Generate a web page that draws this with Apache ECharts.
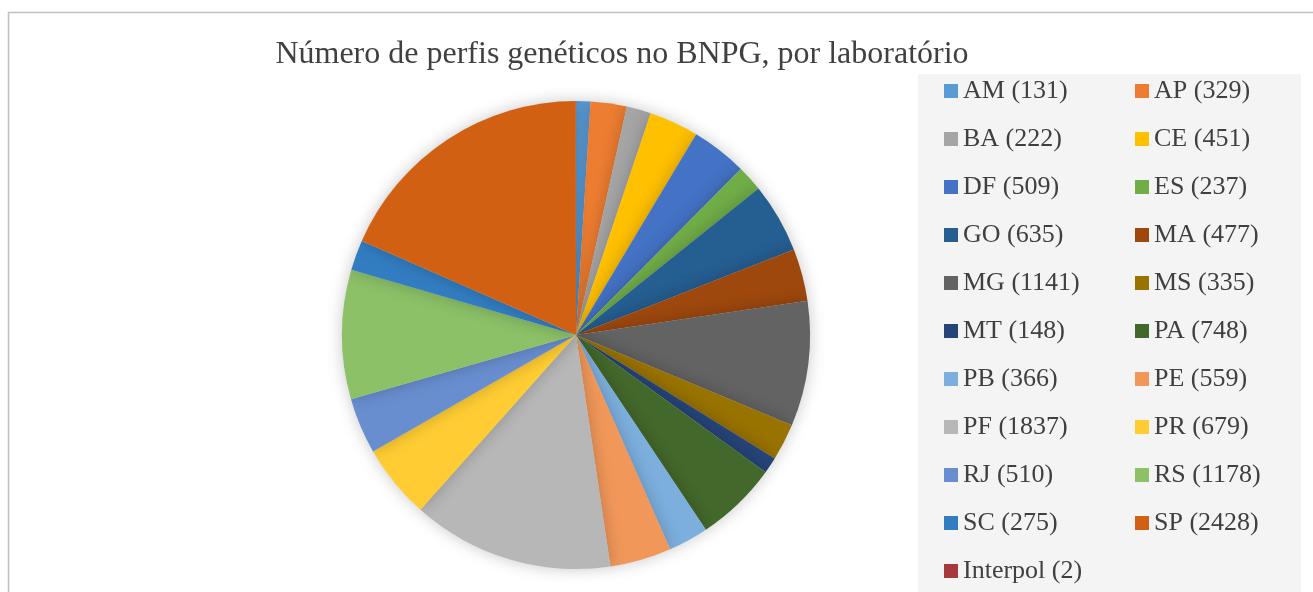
<!DOCTYPE html>
<html>
<head>
<meta charset="utf-8">
<script src="https://cdn.jsdelivr.net/npm/echarts@6/dist/echarts.min.js"></script>
<style>
html,body{margin:0;padding:0;background:#fff;}
#chart{width:1313px;height:592px;}
</style>
</head>
<body>
<div id="chart"></div>
<script>
const titleText = 'Número de perfis genéticos no BNPG, por laboratório';
const labs = ['AM','AP','BA','CE','DF','ES','GO','MA','MG','MS','MT','PA','PB','PE','PF','PR','RJ','RS','SC','SP','Interpol'];
const counts = [131,329,222,451,509,237,635,477,1141,335,148,748,366,559,1837,679,510,1178,275,2428,2];
const colors = ['#5B9BD5','#ED7D31','#A5A5A5','#FFC000','#4472C4','#70AD47','#255E91','#9E480E','#636363','#997300','#264478','#43682B','#7CAFDD','#F1975A','#B7B7B7','#FFCD33','#698ED0','#8CC168','#327DC2','#D26012','#A5393B'];

const leftCol = labs.filter((_, i) => i % 2 === 0);
const rightCol = labs.filter((_, i) => i % 2 === 1);
const valueOf = {};
labs.forEach((l, i) => { valueOf[l] = counts[i]; });

const font = '"Liberation Serif", "Times New Roman", serif';
const legendCommon = {
  orient: 'vertical',
  top: 78,
  height: 540,
  padding: 0,
  itemWidth: 14,
  itemHeight: 14,
  itemGap: 22,
  icon: 'rect',
  selectedMode: false,
  formatter: name => name + ' (' + valueOf[name] + ')',
  textStyle: { fontFamily: font, fontSize: 26, color: '#404040', lineHeight: 26 }
};

const chart = echarts.init(document.getElementById('chart'));
chart.setOption({
  animation: false,
  color: colors,
  title: {
    text: titleText,
    left: 622,
    textAlign: 'center',
    top: 39,
    padding: 0,
    textStyle: { fontFamily: font, fontSize: 32, fontWeight: 'normal', color: '#404040' }
  },
  graphic: [
    { type: 'rect', z: -10, shape: { x: 8.5, y: 12.5, width: 1400, height: 700 }, style: { fill: '#fff', stroke: '#c0c0c0', lineWidth: 1.5 } },
    { type: 'rect', z: -5, shape: { x: 918, y: 74, width: 383, height: 530 }, style: { fill: '#f4f4f4' } }
  ],
  legend: [
    Object.assign({ left: 944, data: leftCol }, legendCommon),
    Object.assign({ left: 1135, data: rightCol }, legendCommon)
  ],
  series: [{
    type: 'pie',
    center: [576, 335],
    radius: 234,
    startAngle: 90,
    clockwise: true,
    label: { show: false },
    labelLine: { show: false },
    emphasis: { disabled: true },
    itemStyle: { shadowBlur: 16, shadowColor: 'rgba(0,0,0,0.22)' },
    data: labs.map((l, i) => ({ name: l, value: counts[i] }))
  }]
});
</script>
</body>
</html>
